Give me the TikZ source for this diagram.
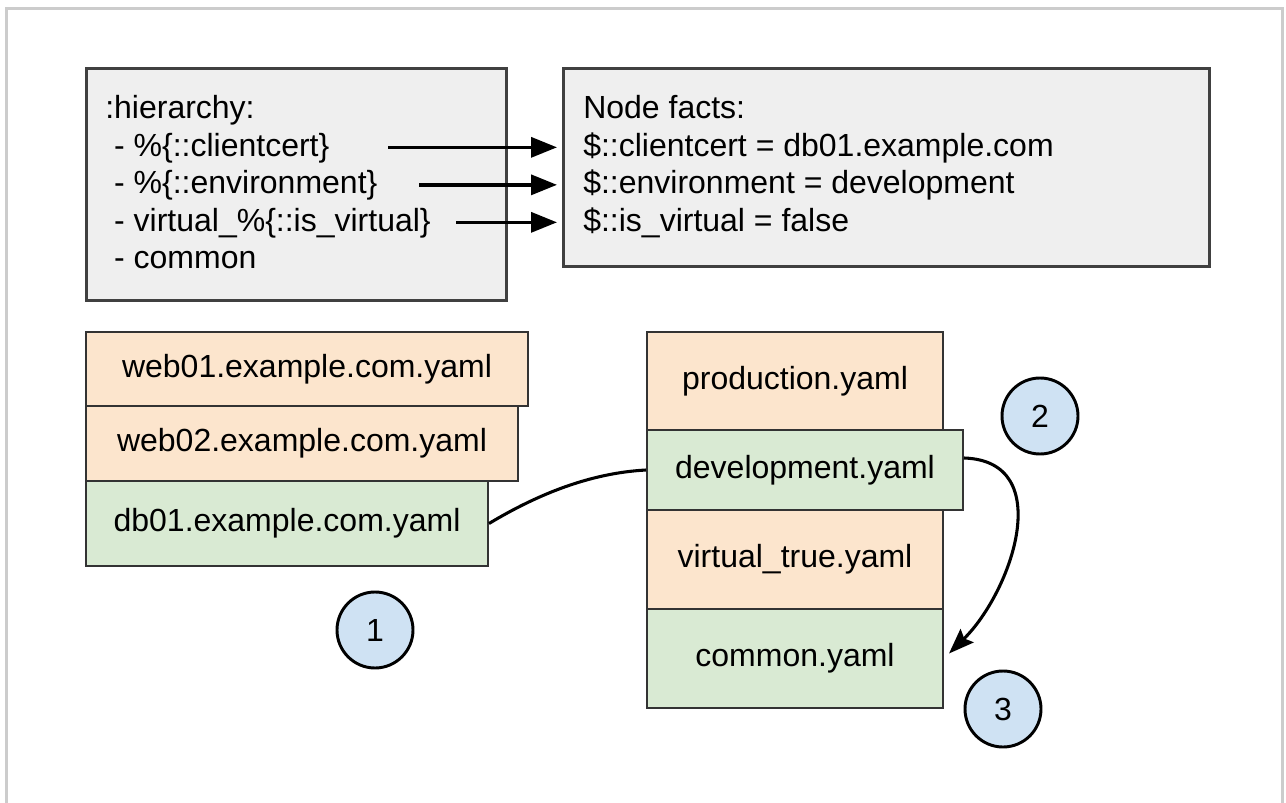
\documentclass[tikz,border=0pt]{standalone}
\usepackage{fontspec}
\setmainfont{Liberation Sans}
\usetikzlibrary{calc}
\usetikzlibrary{arrows.meta}

\definecolor{panelgray}{HTML}{EFEFEF}
\definecolor{yamlorange}{HTML}{FCE5CD}
\definecolor{yamlgreen}{HTML}{D9EAD3}
\definecolor{badgeblue}{HTML}{CFE2F3}
\definecolor{framegray}{HTML}{CCCCCC}

\tikzset{
  boxsize/.style 2 args={minimum width=#1*0.75pt, minimum height=#2*0.75pt},
  panel/.style={draw=black!75, line width=1.9pt, fill=panelgray, inner sep=0, anchor=north west},
  line/.style={anchor=base west, inner sep=0, text height=18pt, text depth=5pt, font=\fontsize{24}{28}\selectfont},
  yamlfile/.style={draw=black!80, line width=1.5pt, inner sep=0, anchor=north west, font=\fontsize{24}{28}\selectfont},
  badge/.style={circle, draw=black, line width=2.2pt, fill=badgeblue, minimum size=57pt, inner sep=0, font=\fontsize{24}{28}\selectfont},
  flow/.style={line width=2.6pt, -{Triangle[length=19.5pt,width=15pt]}, shorten >=19.5pt},
  link/.style={line width=2.3pt}
}

\begin{document}
\begin{tikzpicture}[x=.75pt, y=-.75pt]
\useasboundingbox (0,0) rectangle (1286,803);
\draw[framegray, line width=2.25pt] (6,803) -- (6,8) -- (1282,8) -- (1282,803);

% hiera.yaml and the facts
\node[panel, boxsize={420}{232}] (hier) at (85,67) {};
\node[panel, boxsize={646}{198}] (facts) at (562,67) {};
\foreach \txt [count=\i from 0] in {{:hierarchy:}, {\ - \%\{::clientcert\}}, {\ - \%\{::environment\}}, {\ - virtual\_\%\{::is\_virtual\}}, {\ - common}}
  \node[line] (h\i) at (105, 118.5+37.5*\i) {\txt};
\foreach \txt [count=\i from 0] in {{Node facts:}, {\$::clientcert = db01.example.com}, {\$::environment = development}, {\$::is\_virtual = false}}
  \node[line] (f\i) at (583, 118.5+37.5*\i) {\txt};
\foreach \i/\gap in {1/44, 2/31, 3/19}
  \draw[flow, shorten <=\gap pt] (h\i.east) -- (f\i.west);

% data files
\node[yamlfile, fill=yamlorange, boxsize={442}{74}] (web01) at (85,331) {web01.example.com.yaml};
\node[yamlfile, fill=yamlorange, boxsize={432}{75}] (web02) at (85,405) {web02.example.com.yaml};
\node[yamlfile, fill=yamlgreen, boxsize={402}{85}] (db01) at (85,480) {db01.example.com.yaml};

\node[yamlfile, fill=yamlorange, boxsize={296}{98}] (prod) at (646,331) {production.yaml};
\node[yamlfile, fill=yamlorange, boxsize={296}{99}] (virt) at (646,509) {virtual\_true.yaml};
\node[yamlfile, fill=yamlgreen, boxsize={296}{99}] (common) at (646,608) {common.yaml};
\node[yamlfile, fill=yamlgreen, boxsize={316}{80}] (dev) at (646,429) {development.yaml};

\draw[link] (db01.east) .. controls +(50,-30) and +(-55,3) .. (dev.west);
\draw[link, -{Stealth[length=19pt,width=14pt,inset=3pt]}] ($(dev.east)+(0,-12)$) .. controls +(93,3) and +(63,-62) .. ($(common.east)+(5,-5)$);

\node[badge] (one) at (375,630) {1};
\node[badge] (two) at (1040,416) {2};
\node[badge] (three) at (1003,709) {3};
\end{tikzpicture}
\end{document}
